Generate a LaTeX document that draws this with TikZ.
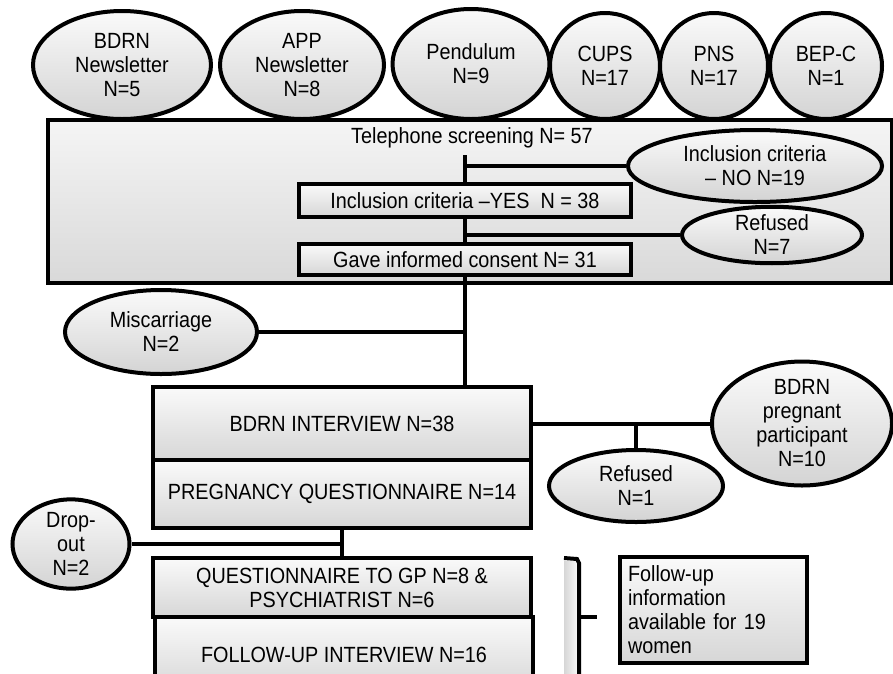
\documentclass[tikz,border=0pt]{standalone}
\usepackage{fontspec}
\setmainfont[FakeStretch=0.9]{Liberation Sans}
\usetikzlibrary{shapes.geometric, shadows}
\tikzset{
  oval/.style={ellipse, draw=black, line width=4pt, top color=gray!4, bottom color=gray!34,
    inner sep=0pt, align=center, drop shadow={shadow xshift=1.5pt, shadow yshift=-1.5pt, opacity=0.2}},
  stepbox/.style={rectangle, draw=black, line width=4pt, top color=gray!4, bottom color=gray!32,
    inner sep=4pt, align=center, drop shadow={shadow xshift=2pt, shadow yshift=-2pt, opacity=0.25}},
  link/.style={draw=black, line width=4pt}
}

\begin{document}
\begin{tikzpicture}[x=1pt, y=-1pt, font=\fontsize{22}{24}\selectfont]
\clip (0,0) rectangle (893,673);

\node[oval, minimum width=178pt, minimum height=108pt] (bdrnnews) at (122,65) {BDRN\\Newsletter\\N=5};
\node[oval, minimum width=164pt, minimum height=108pt] (appnews) at (302,65) {APP\\Newsletter\\N=8};
\node[oval, minimum width=157pt, minimum height=110pt] (pendulum) at (471,64) {Pendulum\\N=9};
\node[oval, minimum width=110pt, minimum height=106pt] (cups) at (605,66) {CUPS\\N=17};
\node[oval, minimum width=108pt, minimum height=106pt] (pns) at (714,66) {PNS\\N=17};
\node[oval, minimum width=112pt, minimum height=106pt] (bepc) at (826,66) {BEP-C\\N=1};

\node[stepbox, top color=gray!8, bottom color=gray!30, minimum width=844pt, minimum height=163pt] (screen) at (470,201.5) {};
\node[inner sep=0pt] (tel) at (472,138) {Telephone screening N= 57};
\coordinate (telend) at (465,155);

\node[stepbox, minimum width=332pt, minimum height=33pt] (incyes) at (465,200.5) {Inclusion criteria \textendash YES\ \ N = 38};
\node[stepbox, minimum width=332pt, minimum height=31pt] (consent) at (465,259.5) {Gave informed consent N= 31};
\node[oval, minimum width=254pt, minimum height=72pt] (incno) at (755,166) {Inclusion criteria\\\textendash\ NO N=19};
\node[oval, minimum width=180pt, minimum height=54pt] (refused7) at (772,235) {Refused\\N=7};

\draw[link] (telend) -- (incyes.north);
\draw[link] (telend |- incno.west) -- (incno.west);
\draw[link] (incyes.south) -- (consent.north);
\draw[link] (incyes.south |- refused7.west) -- (refused7.west);

\node[oval, minimum width=192pt, minimum height=84pt] (miscarriage) at (161,332) {Miscarriage\\N=2};
\node[stepbox, minimum width=378pt, minimum height=73pt] (interview) at (342,423.5) {BDRN INTERVIEW N=38};
\node[stepbox, minimum width=378pt, minimum height=68pt] (pregq) at (342,494) {PREGNANCY QUESTIONNAIRE N=14};
\node[oval, minimum width=180pt, minimum height=124pt] (pregpart) at (802,423.5) {BDRN\\pregnant\\participant\\N=10};
\node[oval, minimum width=174pt, minimum height=72pt] (refused1) at (636,486) {Refused\\N=1};

\draw[link] (consent.south) -- (consent.south |- interview.north);
\draw[link] (miscarriage.east) -- (miscarriage.east -| consent.south);
\draw[link] (interview.east) -- (pregpart.west);
\draw[link] (refused1.north) -- (refused1.north |- interview.east);

\node[oval, minimum width=117pt, minimum height=84pt] (dropout) at (71,544) {Drop-\\out\\N=2};
\node[stepbox, minimum width=378pt, minimum height=59pt] (gpq) at (342,587.5) {QUESTIONNAIRE TO GP N=8 \&\\PSYCHIATRIST N=6};
\node[stepbox, minimum width=378pt, minimum height=76pt] (fuint) at (344,655) {FOLLOW-UP INTERVIEW N=16};

\draw[link] (pregq.south) -- (gpq.north);
\draw[link] (dropout.east) -- (dropout.east -| pregq.south);

\coordinate (bracetop) at (564,558);
\coordinate (bracemid) at (579,617);
\coordinate (bracetip) at (597,617);
\fill[left color=gray!32, right color=gray!6] (564,561) rectangle (577,680);
\draw[link] (bracetop) -- (577,559) -- (579,563) -- (bracemid |- 0,690);
\draw[link] (bracemid) -- (bracetip);

\node[stepbox, align=left, text width=171pt, minimum height=106pt, inner sep=8pt] (fuinfo) at (713.5,610) {Follow-up\\information\\available for 19\\women};
\end{tikzpicture}
\end{document}
